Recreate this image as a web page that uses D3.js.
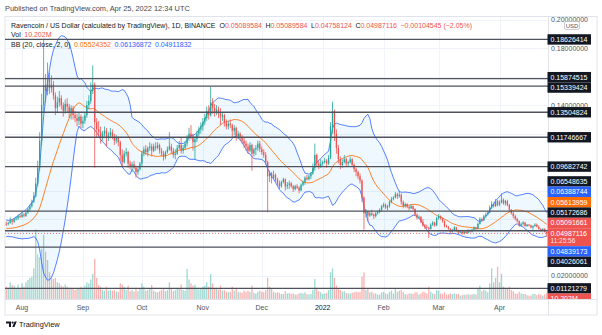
<!DOCTYPE html>
<html>
<head>
<meta charset="utf-8">
<script src="https://cdn.jsdelivr.net/npm/d3@7"></script>
<style>
  html, body { margin: 0; padding: 0; background: #ffffff; }
  svg { display: block; font-family: "Liberation Sans", Arial, sans-serif; }
</style>
</head>
<body>
<svg id="chart" width="602" height="335"></svg>
<script>
// ---------- data: RVN/USD daily candles, 24 Jul 2021 – 25 Apr 2022 ----------
const firstDay = Date.UTC(2021, 6, 24);

// closes of the 20 sessions before the first drawn bar (feed the Bollinger window)
const closesBefore = [.0575,.0590,.0567,.0563,.0550,.0556,.0543,.0532,.0539,.0524,
  .0513,.0520,.0504,.0489,.0478,.0494,.0511,.0533,.0551,.0566];

const opens = [
  .0566,.0565,.0572,.0590,.0580,.0598,.0605,.0620,
  .0615,.0630,.0622,.0645,.0668,.0690,.0720,.0760,.0850,.0960,.1150,.1400,.1540,.1500,.1580,.1520,.1545,.1470,.1380,.1420,.1450,.1400,.1360,.1410,.1390,.1350,.1380,.1330,.1310,.1290,.1320,
  .1270,.1290,.1330,.1400,.1430,.1500,.1545,.1280,.1230,.1210,.1170,.1200,.1220,.1170,.1190,.1210,.1180,.1150,.1170,.1140,.1050,.1000,.1060,.1070,.0990,.0970,.0985,.0960,.0930,.0950,
  .0990,.1060,.1090,.1070,.1100,.1110,.1080,.1110,.1100,.1120,.1080,.1060,.1040,.1070,.1090,.1110,.1080,.1050,.1060,.1100,.1120,.1080,.1100,.1130,.1170,.1200,.1180,.1140,.1160,.1200,.1230,
  .1250,.1280,.1310,.1360,.1330,.1420,.1380,.1350,.1370,.1340,.1320,.1330,.1280,.1250,.1270,.1260,.1220,.1240,.1180,.1200,.1170,.1150,.1130,.1110,.1080,.1120,.1060,.1090,.1100,.1130,
  .1090,.1070,.1050,.1000,.0900,.0920,.0890,.0910,.0880,.0850,.0830,.0860,.0880,.0830,.0840,.0850,.0830,.0810,.0830,.0820,.0800,.0840,.0860,.0890,.0880,.0900,.0920,.0960,.1050,.0990,.0970,
  .0990,.1000,.1010,.0990,.1030,.1250,.1360,.1200,.1100,.1020,.0980,.1000,.1020,.0990,.1000,.1020,.0980,.0950,.0930,.0900,.0870,.0750,.0640,.0655,.0625,.0640,.0630,.0620,.0640,.0650,.0665,
  .0690,.0700,.0680,.0690,.0720,.0740,.0750,.0775,.0760,.0770,.0720,.0690,.0705,.0685,.0675,.0690,.0670,.0630,.0610,.0615,.0580,.0555,.0545,.0540,.0530,.0560,.0575,.0555,
  .0605,.0620,.0605,.0585,.0550,.0545,.0530,.0510,.0520,.0540,.0520,.0505,.0512,.0498,.0510,.0502,.0520,.0512,.0525,.0540,.0530,.0565,.0600,.0590,.0620,.0630,.0645,.0680,.0705,.0690,.0725,
  .0700,.0715,.0735,.0710,.0725,.0700,.0665,.0640,.0620,.0600,.0585,.0555,.0565,.0575,.0550,.0560,.0555,.0540,.0550,.0560,.0545,.0530,.0520,.0530,.05089584
];

const highs = [
  .0582,.0580,.0612,.0598,.0606,.0618,.0631,.0635,
  .0648,.0642,.0657,.0680,.0702,.0736,.0790,.0890,.1010,.1210,.1480,.1863,.1620,.1700,.1630,.1610,.1570,.1490,.1460,.1500,.1470,.1420,.1440,.1450,.1410,.1400,.1395,.1360,.1340,.1350,.1335,
  .1320,.1350,.1430,.1470,.1560,.1680,.1560,.1310,.1290,.1250,.1220,.1250,.1240,.1210,.1240,.1230,.1200,.1190,.1180,.1150,.1090,.1080,.1100,.1080,.1010,.1000,.1010,.0975,.0965,.1000,
  .1080,.1110,.1120,.1110,.1140,.1130,.1130,.1140,.1140,.1130,.1100,.1080,.1080,.1110,.1210,.1130,.1100,.1090,.1120,.1150,.1170,.1120,.1150,.1190,.1240,.1260,.1200,.1180,.1220,.1250,.1280,
  .1310,.1340,.1390,.1400,.1530,.1450,.1410,.1400,.1390,.1380,.1350,.1340,.1300,.1290,.1300,.1270,.1260,.1250,.1220,.1210,.1190,.1170,.1150,.1130,.1140,.1130,.1100,.1120,.1150,.1150,
  .1110,.1090,.1070,.1010,.0940,.0930,.0940,.0920,.0890,.0870,.0870,.0890,.0885,.0860,.0870,.0860,.0840,.0840,.0845,.0830,.0850,.0870,.0900,.0910,.0910,.0930,.0990,.1130,.1060,.1010,.1020,
  .1010,.1030,.1020,.1050,.1280,.1425,.1370,.1230,.1120,.1040,.1020,.1050,.1030,.1010,.1040,.1030,.0990,.0960,.0940,.0920,.0880,.0760,.0670,.0660,.0655,.0665,.0640,.0650,.0660,.0675,.0700,
  .0715,.0710,.0700,.0730,.0755,.0760,.0790,.0785,.0800,.0780,.0730,.0715,.0710,.0695,.0705,.0695,.0675,.0640,.0625,.0620,.0600,.0565,.0560,.0545,.0570,.0585,.0580,.0615,
  .0635,.0625,.0610,.0590,.0560,.0550,.0535,.0530,.0550,.0545,.0525,.0520,.0515,.0518,.0515,.0528,.0525,.0530,.0548,.0545,.0575,.0612,.0610,.0630,.0645,.0655,.0695,.0725,.0715,.0740,.0735,
  .0730,.0780,.0745,.0735,.0735,.0705,.0670,.0650,.0630,.0610,.0590,.0575,.0585,.0580,.0565,.0565,.0560,.0555,.0570,.0568,.0555,.0535,.0535,.0535,.05089584
];

const lows = [
  .0552,.0555,.0566,.0560,.0574,.0590,.0593,.0606,
  .0608,.0611,.0615,.0636,.0652,.0680,.0711,.0750,.0830,.0940,.1120,.1350,.1420,.1470,.1480,.1490,.1440,.1330,.1350,.1390,.1370,.1320,.1340,.1350,.1310,.1300,.1300,.1280,.1250,.1260,.1240,
  .1240,.1270,.1310,.1370,.1410,.1480,.0960,.1170,.1180,.1130,.1150,.1180,.1110,.1150,.1170,.1160,.1120,.1130,.1110,.1010,.0970,.0990,.1040,.0960,.0950,.0930,.0950,.0890,.0910,.0940,
  .0970,.1040,.1050,.1040,.1080,.1040,.1070,.1080,.1090,.1060,.1040,.1010,.1020,.1060,.1080,.1060,.1030,.1020,.1050,.1090,.1060,.1060,.1090,.1110,.1150,.1160,.1080,.1020,.1140,.1180,.1200,
  .1220,.1260,.1290,.1300,.1320,.1340,.1320,.1330,.1310,.1260,.1290,.1250,.1230,.1230,.1240,.1170,.1190,.1150,.1160,.1150,.1130,.1100,.1080,.1060,.1070,.0940,.1040,.1050,.1080,.1070,
  .1050,.1030,.0980,.0646,.0860,.0850,.0880,.0860,.0830,.0810,.0820,.0850,.0800,.0810,.0810,.0820,.0790,.0800,.0810,.0780,.0795,.0830,.0840,.0870,.0870,.0880,.0910,.0940,.0970,.0950,.0960,
  .0975,.0990,.0960,.0980,.1020,.1200,.1150,.1060,.0990,.0950,.0960,.0990,.0970,.0970,.0990,.0970,.0930,.0900,.0880,.0850,.0720,.0525,.0610,.0580,.0615,.0620,.0600,.0610,.0630,.0640,.0650,
  .0680,.0670,.0660,.0680,.0710,.0730,.0745,.0740,.0750,.0700,.0675,.0680,.0675,.0660,.0670,.0660,.0620,.0595,.0600,.0570,.0545,.0530,.0530,.0465,.0525,.0550,.0545,.0550,
  .0595,.0595,.0575,.0540,.0540,.0525,.0500,.0505,.0515,.0510,.0495,.0500,.0490,.0492,.0495,.0500,.0505,.0505,.0520,.0522,.0528,.0560,.0580,.0585,.0610,.0625,.0640,.0670,.0680,.0685,.0690,
  .0690,.0710,.0700,.0695,.0690,.0650,.0630,.0605,.0590,.0575,.0545,.0545,.0555,.0545,.0545,.0548,.0535,.0525,.0545,.0540,.0525,.0510,.0515,.0505,.04758124
];

const closes = [
  .0565,.0572,.0590,.0580,.0598,.0605,.0620,.0615,
  .0630,.0622,.0645,.0668,.0690,.0720,.0760,.0850,.0960,.1150,.1400,.1540,.1500,.1580,.1520,.1545,.1470,.1380,.1420,.1450,.1400,.1360,.1410,.1390,.1350,.1380,.1330,.1310,.1290,.1320,.1270,
  .1290,.1330,.1400,.1430,.1500,.1545,.1280,.1230,.1210,.1170,.1200,.1220,.1170,.1190,.1210,.1180,.1150,.1170,.1140,.1050,.1000,.1060,.1070,.0990,.0970,.0985,.0960,.0930,.0950,.0990,
  .1060,.1090,.1070,.1100,.1110,.1080,.1110,.1100,.1120,.1080,.1060,.1040,.1070,.1090,.1110,.1080,.1050,.1060,.1100,.1120,.1080,.1100,.1130,.1170,.1200,.1180,.1140,.1160,.1200,.1230,.1250,
  .1280,.1310,.1360,.1330,.1420,.1380,.1350,.1370,.1340,.1320,.1330,.1280,.1250,.1270,.1260,.1220,.1240,.1180,.1200,.1170,.1150,.1130,.1110,.1080,.1120,.1060,.1090,.1100,.1130,.1090,
  .1070,.1050,.1000,.0900,.0920,.0890,.0910,.0880,.0850,.0830,.0860,.0880,.0830,.0840,.0850,.0830,.0810,.0830,.0820,.0800,.0840,.0860,.0890,.0880,.0900,.0920,.0960,.1050,.0990,.0970,.0990,
  .1000,.1010,.0990,.1030,.1250,.1360,.1200,.1100,.1020,.0980,.1000,.1020,.0990,.1000,.1020,.0980,.0950,.0930,.0900,.0870,.0750,.0640,.0655,.0625,.0640,.0630,.0620,.0640,.0650,.0665,.0690,
  .0700,.0680,.0690,.0720,.0740,.0750,.0775,.0760,.0770,.0720,.0690,.0705,.0685,.0675,.0690,.0670,.0630,.0610,.0615,.0580,.0555,.0545,.0540,.0530,.0560,.0575,.0555,.0605,
  .0620,.0605,.0585,.0550,.0545,.0530,.0510,.0520,.0540,.0520,.0505,.0512,.0498,.0510,.0502,.0520,.0512,.0525,.0540,.0530,.0565,.0600,.0590,.0620,.0630,.0645,.0680,.0705,.0690,.0725,.0700,
  .0715,.0735,.0710,.0725,.0700,.0665,.0640,.0620,.0600,.0585,.0555,.0565,.0575,.0550,.0560,.0555,.0540,.0550,.0560,.0545,.0530,.0520,.0530,.05090,.04987116
];

// volume in millions
const volumes = [
  22,18,30,25,24,20,26,19,
  28,22,30,34,38,40,55,125,80,75,90,115,85,70,48,40,36,38,30,28,24,22,26,22,20,20,18,16,18,20,22,
  20,24,30,28,35,45,72,38,25,22,16,15,22,15,16,15,16,13,13,28,26,22,16,24,14,16,13,20,14,18,
  28,22,15,16,18,25,15,13,12,14,16,18,14,16,30,18,14,16,20,18,26,16,15,54,35,28,24,26,20,17,18,
  22,24,30,22,45,28,18,20,17,24,15,16,13,12,13,22,15,18,13,12,11,15,13,15,13,24,11,10,13,15,
  13,12,16,38,22,18,13,11,12,11,9,9,14,10,11,9,10,8,8,10,11,10,12,9,8,9,16,36,20,14,12,
  9,10,11,16,48,55,38,24,18,16,13,14,11,10,10,11,12,13,12,13,40,48,16,18,12,13,10,10,8,8,12,
  13,10,9,13,15,10,18,13,15,16,13,9,8,10,10,9,12,12,8,10,13,12,10,22,13,10,9,16,
  15,10,9,12,8,8,10,9,10,9,9,6,7,8,8,9,8,8,9,8,18,24,14,17,15,12,28,55,30,38,58,
  30,45,22,20,19,22,16,14,10,9,13,10,9,9,7,6,6,9,9,7,9,8,6,8,10.202
];

// horizontal levels drawn on the chart
const levelLines = [0.18626414, 0.15874515, 0.15339424, 0.13504824, 0.11746667,
  0.09682742, 0.06548635, 0.05172686, 0.04026061, 0.01121279];

const priceTicks = [0.02, 0.04, 0.06, 0.08, 0.10, 0.12, 0.14, 0.16, 0.18, 0.20];
const monthTicks = [[2021,7],[2021,8],[2021,9],[2021,10],[2021,11],[2022,0],[2022,1],[2022,2],[2022,3]];
const monthLabels = ["Aug", "Sep", "Oct", "Nov", "Dec", "2022", "Feb", "Mar", "Apr"];

// Bollinger Bands (20, close, 2) readings shown in the legend and on the scale
const bbLength = 20, bbMult = 2;
const bbLegend = ["0.05524352", "0.06136872", "0.04911832"];
const bbLast = { upper: 0.06388744, basis: 0.05613959, lower: 0.04839173 };
const lastPrice = 0.04987116, prevClose = 0.05091661, lastVolume = 10.202;

// ---------- layout ----------
const pane = { left: 5, right: 548, top: 17, bottom: 299 };
const axisRight = 597, frameBottom = 315;
const COL = { up: "#26a69a", down: "#ef5350", blue: "#2962ff", orange: "#ff6d00",
  text: "#131722", grey: "#50535e", grid: "#f0f3fa", border: "#e0e3eb" };

const svg = d3.select("#chart");
const x = d3.scaleUtc()
  .domain([new Date(Date.UTC(2021, 7, 1)), new Date(Date.UTC(2022, 3, 25))])
  .range([22, 546.7]);
const y = d3.scaleLinear().domain([0, 0.2]).range([304.3, 19.9]);
const yVol = d3.scaleLinear().domain([0, 140]).range([pane.bottom, pane.bottom - 78]);

const bars = closes.map((c, i) => ({
  date: d3.utcDay.offset(new Date(firstDay), i),
  o: opens[i], h: highs[i], l: lows[i], c, v: volumes[i]
}));

// Bollinger: SMA of the last 20 closes ± 2 population standard deviations
const allCloses = closesBefore.concat(closes);
const off = closesBefore.length;
const bb = bars.map((b, i) => {
  const w = allCloses.slice(i + off - bbLength + 1, i + off + 1);
  const m = d3.mean(w);
  const sd = Math.sqrt(d3.mean(w, v => (v - m) * (v - m)));
  return { date: b.date, basis: m, upper: m + bbMult * sd, lower: m - bbMult * sd };
});

const defs = svg.append("defs");
defs.append("clipPath").attr("id", "paneClip").append("rect")
  .attr("x", pane.left).attr("y", pane.top)
  .attr("width", pane.right - pane.left).attr("height", pane.bottom - pane.top);
defs.append("clipPath").attr("id", "axisClip").append("rect")
  .attr("x", pane.right - 1).attr("y", pane.top)
  .attr("width", axisRight - pane.right + 1).attr("height", pane.bottom - pane.top);

svg.append("rect").attr("width", 602).attr("height", 335).attr("fill", "#fff");

// header
svg.append("text").attr("x", 5).attr("y", 10.5)
  .attr("font-size", 7.4).attr("fill", "#434651")
  .text("Published on TradingView.com, Apr 25, 2022 12:34 UTC");

// frame
svg.append("rect").attr("x", pane.left).attr("y", pane.top - 0.5)
  .attr("width", axisRight - pane.left).attr("height", frameBottom - pane.top + 0.5)
  .attr("fill", "none").attr("stroke", COL.border);

const plot = svg.append("g").attr("clip-path", "url(#paneClip)");

// grid
plot.append("g").selectAll("line").data(monthTicks).join("line")
  .attr("x1", d => Math.round(x(new Date(Date.UTC(d[0], d[1], 1)))) + 0.5)
  .attr("x2", d => Math.round(x(new Date(Date.UTC(d[0], d[1], 1)))) + 0.5)
  .attr("y1", pane.top).attr("y2", pane.bottom)
  .attr("stroke", COL.grid);
plot.append("g").selectAll("line").data(priceTicks).join("line")
  .attr("x1", pane.left).attr("x2", pane.right)
  .attr("y1", d => Math.round(y(d)) + 0.5).attr("y2", d => Math.round(y(d)) + 0.5)
  .attr("stroke", COL.grid);

// volume
const barW = 1.3;
plot.append("g").selectAll("rect").data(bars).join("rect")
  .attr("x", d => x(d.date) - barW / 2)
  .attr("width", barW)
  .attr("y", d => yVol(d.v))
  .attr("height", d => yVol(0) - yVol(d.v))
  .attr("fill", d => d.c >= d.o ? COL.up : COL.down)
  .attr("fill-opacity", 0.45);

// Bollinger band
plot.append("path").datum(bb)
  .attr("d", d3.area().x(d => x(d.date)).y0(d => y(d.lower)).y1(d => y(d.upper)))
  .attr("fill", "rgba(33,150,243,0.07)");
[["upper", COL.blue], ["lower", COL.blue], ["basis", COL.orange]].forEach(([k, c]) => {
  plot.append("path").datum(bb)
    .attr("d", d3.line().x(d => x(d.date)).y(d => y(d[k])))
    .attr("fill", "none").attr("stroke", c).attr("stroke-width", 1)
    .attr("stroke-opacity", k === "basis" ? 0.85 : 0.8);
});

// candles
const candles = plot.append("g").selectAll("g").data(bars).join("g")
  .attr("fill", d => d.c >= d.o ? COL.up : COL.down)
  .attr("stroke", d => d.c >= d.o ? COL.up : COL.down);
candles.append("line")
  .attr("x1", d => x(d.date)).attr("x2", d => x(d.date))
  .attr("y1", d => y(d.h)).attr("y2", d => y(d.l))
  .attr("stroke-width", 0.8);
candles.append("rect")
  .attr("stroke", "none")
  .attr("x", d => x(d.date) - barW / 2).attr("width", barW)
  .attr("y", d => y(Math.max(d.o, d.c)))
  .attr("height", d => Math.max(0.8, Math.abs(y(d.o) - y(d.c))));

// horizontal levels
plot.append("g").selectAll("line").data(levelLines).join("line")
  .attr("x1", pane.left).attr("x2", pane.right)
  .attr("y1", d => y(d)).attr("y2", d => y(d))
  .attr("stroke", COL.grey).attr("stroke-width", 1.3);

// last price line
plot.append("line")
  .attr("x1", pane.left).attr("x2", pane.right)
  .attr("y1", y(lastPrice)).attr("y2", y(lastPrice))
  .attr("stroke", COL.down).attr("stroke-width", 1)
  .attr("stroke-dasharray", "1,2").attr("stroke-opacity", 0.8);

// legend
const legendFont = 7;
const l1 = svg.append("text").attr("x", 11).attr("y", 27.5).attr("font-size", legendFont).attr("fill", COL.text);
l1.append("tspan").text("Ravencoin / US Dollar (calculated by TradingView), 1D, BINANCE");
[["O", "0.05089584"], ["H", "0.05089584"], ["L", "0.04758124"], ["C", "0.04987116"]].forEach(([k, v], i) => {
  l1.append("tspan").attr("dx", i === 0 ? 4 : 3.5).text(k);
  l1.append("tspan").attr("fill", COL.down).text(v);
});
l1.append("tspan").attr("dx", 3.5).attr("fill", COL.down).text("\u22120.00104545 (\u22122.05%)");

const l2 = svg.append("text").attr("x", 11).attr("y", 37).attr("font-size", legendFont).attr("fill", COL.text);
l2.append("tspan").text("Vol");
l2.append("tspan").attr("dx", 3.5).attr("fill", COL.down).text("10.202M");

const l3 = svg.append("text").attr("x", 11).attr("y", 47).attr("font-size", legendFont).attr("fill", COL.text);
l3.append("tspan").text("BB (20, close, 2, 0)");
l3.append("tspan").attr("dx", 3.5).attr("fill", COL.orange).text(bbLegend[0]);
l3.append("tspan").attr("dx", 3.5).attr("fill", COL.blue).text(bbLegend[1]);
l3.append("tspan").attr("dx", 3.5).attr("fill", COL.blue).text(bbLegend[2]);

// ---------- price scale ----------
svg.append("line").attr("x1", pane.right + 0.5).attr("x2", pane.right + 0.5)
  .attr("y1", pane.top).attr("y2", frameBottom).attr("stroke", COL.border);
svg.append("line").attr("x1", pane.left).attr("x2", axisRight)
  .attr("y1", pane.bottom + 0.5).attr("y2", pane.bottom + 0.5).attr("stroke", COL.border);

const axis = svg.append("g").attr("clip-path", "url(#axisClip)");

// value labels, stacked so that they never overlap; the last-price label keeps its place
const boxH = 10.4;
const labels = levelLines.map(v => ({ value: v, fill: COL.text }))
  .concat([
    { value: bbLast.upper, fill: COL.blue },
    { value: bbLast.basis, fill: COL.orange },
    { value: bbLast.lower, fill: COL.blue },
    { value: prevClose, fill: COL.down },
    { value: lastPrice, fill: COL.down, fixed: true, sub: "11:25:56" }
  ]);
labels.forEach(d => { d.h = d.sub ? 18 : boxH; d.want = y(d.value) - boxH / 2; });
labels.sort((a, b) => a.want - b.want);

let clusters = labels.map(d => ({ items: [d] }));
function place(c) {
  let acc = 0;
  c.items.forEach(d => { d.off = acc; acc += d.h; });
  c.height = acc;
  const fixed = c.items.find(d => d.fixed);
  c.top = fixed ? fixed.want - fixed.off : d3.mean(c.items, d => d.want - d.off);
}
clusters.forEach(place);
let merged = true;
while (merged) {
  merged = false;
  for (let i = 0; i < clusters.length - 1; i++) {
    const a = clusters[i], b = clusters[i + 1];
    if (a.top + a.height > b.top) {
      a.items = a.items.concat(b.items);
      clusters.splice(i + 1, 1);
      place(a);
      merged = true;
      break;
    }
  }
}
clusters.forEach(c => c.items.forEach(d => { d.top = c.top + d.off; }));

// volume label sits below whatever price label it would hit
const volLabel = { top: yVol(lastVolume) - boxH / 2 };
labels.forEach(d => {
  if (d.top < volLabel.top + boxH && d.top + d.h > volLabel.top) volLabel.top = d.top + d.h;
});

// scale ticks, left out where a value label covers them
const covered = t => labels.some(d => {
  const a = Math.max(y(t) - 3.5, d.top), b = Math.min(y(t) + 3.5, d.top + d.h);
  return b - a > 2;
});
axis.append("g").selectAll("text").data(priceTicks.filter(t => !covered(t))).join("text")
  .attr("x", 551).attr("y", d => y(d) + 2.5)
  .attr("font-size", 7).attr("fill", COL.grey)
  .text(d => d3.format(".8f")(d));

const boxX = 547.5, boxW = 43.5;
const lab = axis.append("g").selectAll("g").data(labels).join("g");
lab.append("rect").attr("x", boxX).attr("y", d => d.top)
  .attr("width", boxW).attr("height", d => d.h).attr("fill", d => d.fill);
lab.append("text").attr("x", boxX + 3).attr("y", d => d.top + 7.6)
  .attr("font-size", 7).attr("fill", "#fff")
  .text(d => d3.format(".8f")(d.value));
lab.filter(d => d.sub).append("text").attr("x", boxX + 3).attr("y", d => d.top + 15)
  .attr("font-size", 6.5).attr("fill", "#fff").attr("fill-opacity", 0.85)
  .text(d => d.sub);

axis.append("rect").attr("x", boxX).attr("y", volLabel.top)
  .attr("width", boxW).attr("height", boxH).attr("fill", COL.down);
axis.append("text").attr("x", boxX + 3).attr("y", volLabel.top + 7.6)
  .attr("font-size", 7).attr("fill", "#fff").text(d3.format(".3f")(lastVolume) + "M");

// currency badge
svg.append("rect").attr("x", 564.5).attr("y", 21.5).attr("width", 15).attr("height", 8)
  .attr("rx", 1.5).attr("fill", "#fff").attr("stroke", "#b2b5be").attr("stroke-width", 0.7);
svg.append("text").attr("x", 572).attr("y", 27.8).attr("text-anchor", "middle")
  .attr("font-size", 6).attr("fill", COL.grey).text("USD");

// ---------- time scale ----------
svg.append("g").selectAll("text").data(monthTicks).join("text")
  .attr("x", d => x(new Date(Date.UTC(d[0], d[1], 1))))
  .attr("y", 309.5).attr("text-anchor", "middle")
  .attr("font-size", 7).attr("fill", (d, i) => monthLabels[i] === "2022" ? COL.text : COL.grey)
  .text((d, i) => monthLabels[i]);

// footer logo
const logo = svg.append("g").attr("fill", COL.text);
logo.append("path").attr("d", "M6 321.5h5v5.5h-2v-3.5h-3z");
logo.append("circle").attr("cx", 12.6).attr("cy", 322.6).attr("r", 1.1);
logo.append("path").attr("d", "M14.6 321.5h2.2l-2.4 5.5h-2.2z");
svg.append("text").attr("x", 19).attr("y", 327).attr("font-size", 7.4)
  .attr("fill", COL.text).text("TradingView");
</script>
</body>
</html>
